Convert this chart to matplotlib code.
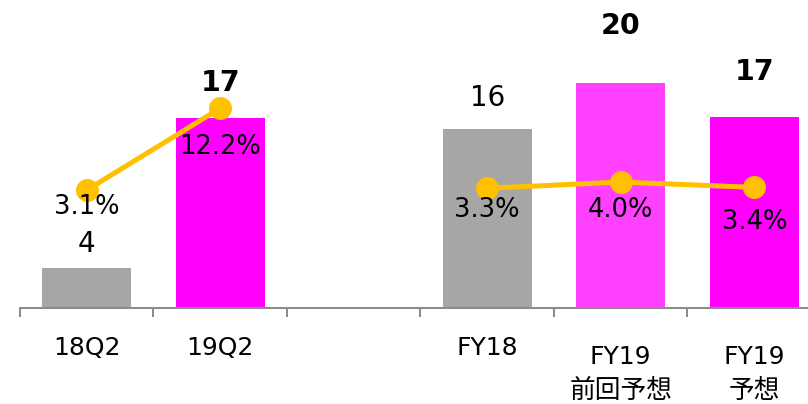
import numpy as np
import matplotlib.pyplot as plt

plt.rcParams['font.family'] = ['DejaVu Sans', 'Noto Sans CJK JP']

# data
categories = ['18Q2', '19Q2', '', 'FY18', 'FY19\n前回予想', 'FY19\n予想']
sales = [3.6, 16.9, np.nan, 15.9, 20.0, 17.0]
sales_labels = ['4', '17', '', '16', '20', '17']
margin = [3.1, 12.2, np.nan, 3.3, 4.0, 3.4]

# styling
bar_colors = ['#A6A6A6', '#FF00FF', 'none', '#A6A6A6', '#FF40FF', '#FF00FF']
bold_label = [False, True, False, False, True, True]
sales_off = [24, 35, 0, 31, 57, 45]      # px above bar top
margin_off = [17, 39, 0, 22, 28, 35]     # px below marker
line_color = '#FFC000'
axis_color = '#8C8C8C'

W, H = 808, 404
fig = plt.figure(figsize=(W / 100, H / 100), dpi=100)
# axis line at y=308 px, category width ~133.5 px starting at x=20
ax = fig.add_axes([20 / W, (H - 308) / H, 801 / W, 308 / H])
ax2 = ax.twinx()

x = np.arange(len(categories))
ax.bar(x, sales, width=0.667, color=bar_colors, zorder=2)
ax.set_xlim(-0.5, len(categories) - 0.5)
ax.set_ylim(0, 308 / 11.25)

for i, v in enumerate(sales):
    if np.isnan(v):
        continue
    ax.annotate(sales_labels[i], (x[i], v), xytext=(0, sales_off[i]),
                textcoords='offset pixels', ha='center', va='center',
                fontsize=20.5 if bold_label[i] else 20,
                fontweight='bold' if bold_label[i] else 'normal')

ax2.plot(x, margin, color=line_color, lw=3.6, marker='o', markersize=15.5,
         zorder=3)
ax2.set_ylim(-10, -10 + 308 / 9)
for i, v in enumerate(margin):
    if np.isnan(v):
        continue
    ax2.annotate(f'{v:.1f}%', (x[i], v), xytext=(0, -margin_off[i]),
                 textcoords='offset pixels', ha='center', va='center',
                 fontsize=18.5)

for a in (ax, ax2):
    for s in ('left', 'right', 'top'):
        a.spines[s].set_visible(False)
    a.set_yticks([])
ax2.spines['bottom'].set_visible(False)
ax.spines['bottom'].set_color(axis_color)
ax.spines['bottom'].set_linewidth(1.5)

ax.set_xticks(x)
ax.set_xticklabels([])
ax.tick_params(axis='x', which='major', length=0)
ax.set_xticks(np.arange(-0.5, len(categories), 1), minor=True)
ax.tick_params(axis='x', which='minor', length=6.5, width=1.5,
               color=axis_color, direction='out')

# category labels, baselines in px from the top
trans = ax.get_xaxis_transform()
for i, lab in enumerate(categories):
    if not lab:
        continue
    lines = lab.split('\n')
    base1 = 364 if len(lines) > 1 else 355
    ax.text(x[i], (308 - base1) / 308, lines[0], transform=trans,
            ha='center', va='baseline', fontsize=18)
    if len(lines) > 1:
        ax.text(x[i], (308 - 398) / 308, lines[1], transform=trans,
                ha='center', va='baseline', fontsize=18.5)

fig.savefig('out.png', dpi=100)
